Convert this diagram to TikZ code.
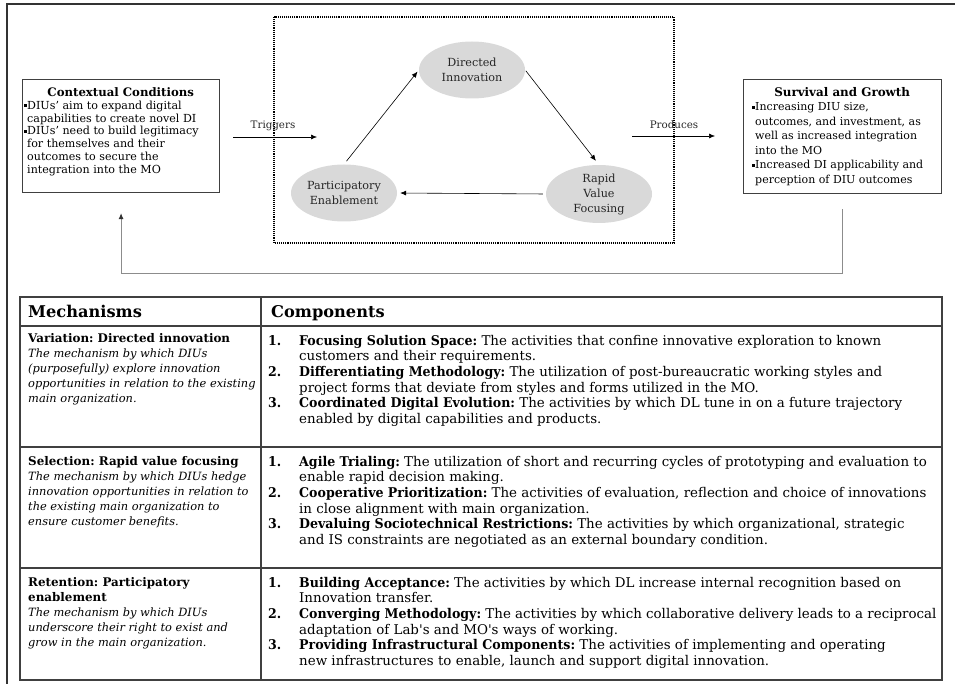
\documentclass[tikz,border=0pt]{standalone}
\usepackage{fontspec}
\setmainfont{DejaVu Serif}
\newfontfamily\compfont{DejaVu Serif}[BoldFeatures={FakeStretch=0.94}]
\usetikzlibrary{arrows.meta,shapes.geometric}
\newcommand\sqb{\rule[2.2pt]{3pt}{3pt}}
\newcommand\itm[1]{\makebox[31pt][l]{\textbf{#1.}}}
\newcommand\hng{\hspace*{31pt}}
\newcommand\desc[1]{{\fontsize{11.4}{15}\selectfont\itshape #1}}
\begin{document}
\frenchspacing
\begin{tikzpicture}[x=1pt,y=-1pt,
  frame/.style={draw=black!80, line width=2pt},
  cbox/.style={draw=black!75, line width=1.1pt, rectangle, inner sep=0pt, anchor=north west},
  txt/.style={anchor=north west, inner sep=0pt, align=left},
  cyc/.style={ellipse, fill=black!15, minimum width=106pt, minimum height=57pt,
    inner sep=0pt, align=center, font=\fontsize{11.2}{15}\selectfont, text=black!85},
  flow/.style={-{Latex[length=6pt,width=5pt]}, line width=0.6pt},
  lbl/.style={font=\fontsize{10.3}{13}\selectfont, inner sep=0pt, text=black!85},
  fb/.style={draw=black!45, line width=1pt, -{Latex[length=6pt,width=5pt,color=black!80]}},
  tabline/.style={draw=black!75, line width=1.2pt},
  mech/.style={txt, font=\fontsize{11.9}{15}\selectfont},
  comp/.style={txt, font=\compfont\fontsize{13.4}{15.6}\selectfont},
  head/.style={anchor=base west, inner sep=0pt, font=\fontsize{16.2}{19}\selectfont\bfseries}]
\useasboundingbox (0,0) rectangle (955,684);

% page frame
\draw[frame] (7,684) -- (7,4) -- (955,4);

% context and outcome boxes
\node[cbox, minimum width=197pt, minimum height=113pt] (ctx) at (22,79) {};
\node[txt, font=\fontsize{11.1}{12.9}\selectfont] (ctxtext) at (24,87) {\strut\makebox[193pt][c]{\fontsize{11.7}{12.9}\selectfont\textbf{Contextual Conditions}}\\
  \sqb DIUs’ aim to expand digital\\
  \hspace*{3pt}capabilities to create novel DI\\
  \sqb DIUs’ need to build legitimacy\\
  \hspace*{3pt}for themselves and their\\
  \hspace*{3pt}outcomes to secure the\\
  \hspace*{3pt}integration into the MO};

\node[cbox, minimum width=198pt, minimum height=114pt] (surv) at (743,79) {};
\node[txt, font=\fontsize{11}{14.5}\selectfont] (survtext) at (752,86) {\strut\makebox[180pt][c]{\fontsize{11.9}{14.5}\selectfont\textbf{Survival and Growth}}\\
  \sqb Increasing DIU size,\\
  \hspace*{3pt}outcomes, and investment, as\\
  \hspace*{3pt}well as increased integration\\
  \hspace*{3pt}into the MO\\
  \sqb Increased DI applicability and\\
  \hspace*{3pt}perception of DIU outcomes};

% evolutionary cycle
\draw[line width=1.3pt, dash pattern=on 1.1pt off 1pt] (274,17) rectangle (674,243);
\node[cyc] (di) at (472,70) {Directed\\Innovation};
\node[cyc] (rvf) at (599,194) {Rapid\\Value\\Focusing};
\node[cyc] (pe) at (344,193) {Participatory\\Enablement};
\draw[flow, shorten <=4pt, shorten >=2pt] (pe.north) -- (di.west);
\draw[flow, shorten <=1pt, shorten >=5pt] (di.east) -- (rvf.north);
\draw[flow, shorten <=3pt, shorten >=3pt] (rvf.west) -- (pe.east);

% triggers / produces
\coordinate (trigA) at (233,137);
\coordinate (trigB) at (317,137);
\coordinate (prodA) at (632,136);
\coordinate (prodB) at (715,136);
\draw[flow] (trigA) -- (trigB);
\draw[flow] (prodA) -- (prodB);
\node[lbl] (trig) at (273,126) {Triggers};
\node[lbl] (prod) at (674,125) {Produces};

% feedback loop
\draw[fb, shorten <=15pt, shorten >=20pt] (surv.south) -- ++(0,79) -| (ctx.south);

% table
\draw[tabline] (20,297) rectangle (942,680);
\draw[tabline] (20,326) -- (942,326);
\draw[tabline] (20,447) -- (942,447);
\draw[tabline] (20,568) -- (942,568);
\draw[tabline] (261,297) -- (261,680);

\node[head] (hm) at (28,318) {Mechanisms};
\node[head] (hc) at (271,318) {Components};

\node[mech] (m1) at (28,331.5) {\strut\textbf{Variation: Directed innovation}\\
  \desc{The mechanism by which DIUs}\\
  \desc{(purposefully) explore innovation}\\
  \desc{opportunities in relation to the existing}\\
  \desc{main organization.}};
\node[mech] (m2) at (28,454.5) {\strut\textbf{Selection: Rapid value focusing}\\
  \desc{The mechanism by which DIUs hedge}\\
  \desc{innovation opportunities in relation to}\\
  \desc{the existing main organization to}\\
  \desc{ensure customer benefits.}};
\node[mech] (m3) at (28,575.5) {\strut\textbf{Retention: Participatory}\\
  \textbf{enablement}\\
  \desc{The mechanism by which DIUs}\\
  \desc{underscore their right to exist and}\\
  \desc{grow in the main organization.}};

\node[comp] (c1) at (268,334.1) {\strut\itm{1}\textbf{Focusing Solution Space:} The activities that confine innovative exploration to known\\
  \hng customers and their requirements.\\
  \itm{2}\textbf{Differentiating Methodology:} The utilization of post-bureaucratic working styles and\\
  \hng project forms that deviate from styles and forms utilized in the MO.\\
  \itm{3}\textbf{Coordinated Digital Evolution:} The activities by which DL tune in on a future trajectory\\
  \hng enabled by digital capabilities and products.};
\node[comp] (c2) at (268,455.1) {\strut\itm{1}\textbf{Agile Trialing:} The utilization of short and recurring cycles of prototyping and evaluation to\\
  \hng enable rapid decision making.\\
  \itm{2}\textbf{Cooperative Prioritization:} The activities of evaluation, reflection and choice of innovations\\
  \hng in close alignment with main organization.\\
  \itm{3}\textbf{Devaluing Sociotechnical Restrictions:} The activities by which organizational, strategic\\
  \hng and IS constraints are negotiated as an external boundary condition.};
\node[comp] (c3) at (268,576.1) {\strut\itm{1}\textbf{Building Acceptance:} The activities by which DL increase internal recognition based on\\
  \hng Innovation transfer.\\
  \itm{2}\textbf{Converging Methodology:} The activities by which collaborative delivery leads to a reciprocal\\
  \hng adaptation of Lab's and MO's ways of working.\\
  \itm{3}\textbf{Providing Infrastructural Components:} The activities of implementing and operating\\
  \hng new infrastructures to enable, launch and support digital innovation.};
\end{tikzpicture}
\end{document}
